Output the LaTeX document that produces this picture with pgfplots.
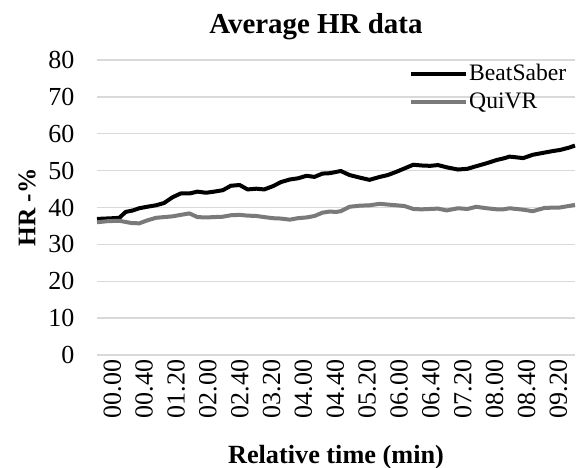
\documentclass[border=0pt]{standalone}
\usepackage{fontspec}
\setmainfont{Liberation Serif}
\usepackage{pgfplots}
\pgfplotsset{compat=1.18}
\definecolor{gridc}{RGB}{217,217,217}
\definecolor{quivr}{RGB}{122,122,122}
\begin{document}
\begin{tikzpicture}[x=0.75pt,y=0.75pt]
\useasboundingbox (0,0) rectangle (579,468);
\begin{axis}[
  at={(72.75pt,84.75pt)}, anchor=south west,
  scale only axis, width=358.5pt, height=221.25pt,
  xmin=0, xmax=600, ymin=0, ymax=80,
  clip=false,
  axis line style={draw=none},
  ymajorgrids, grid style={gridc, line width=1.1pt},
  major tick length=0pt,
  ytick={0,10,...,80},
  xtick={0,40,...,560},
  xticklabels={00.00,00.40,01.20,02.00,02.40,03.20,04.00,04.40,05.20,06.00,06.40,07.20,08.00,08.40,09.20},
  /pgf/number format/assume math mode=true,
  tick label style={font=\fontsize{19.5}{22}\selectfont},
  yticklabel style={anchor=east, xshift=-13.5pt},
  xticklabel style={rotate=90, anchor=east, yshift=-11.5pt},
  title={Average HR data},
  title style={font=\fontsize{21.7}{24}\selectfont\bfseries, at={(rel axis cs:0.458,1)}, anchor=center, yshift=19pt},
  xlabel={Relative time (min)},
  xlabel style={font=\fontsize{19.7}{22}\selectfont\bfseries, at={(rel axis cs:0.5,0)}, anchor=center, yshift=-76.5pt},
  ylabel={HR -\%},
  ylabel style={font=\fontsize{19}{22}\selectfont\bfseries, at={(rel axis cs:-0.146,0.5)}, anchor=center},
  legend style={draw=none, fill=none, at={(rel axis cs:0.985,0.99)}, anchor=north east,
    font=\fontsize{17.7}{20}\selectfont, inner sep=0pt, row sep=5.5pt,
    nodes={inner sep=1pt}},
  legend cell align=left,
  legend image code/.code={\draw[#1] (0pt,0pt) -- (41pt,0pt);},
  every axis plot/.append style={line width=3pt, line join=round},
]
\addplot[black] coordinates {
(0,36.9)(10,37.0)(20,37.1)(28,37.2)(36,38.8)(45,39.2)(53,39.8)(63,40.2)(74,40.6)(84,41.2)
(95,42.8)(105,43.8)(116,43.8)(126,44.3)(137,44.0)(147,44.3)(158,44.7)(168,45.9)(179,46.1)(189,44.9)
(200,45.1)(210,44.9)(221,45.8)(231,46.9)(242,47.6)(252,47.9)(263,48.6)(273,48.3)(283,49.2)(292,49.3)
(306,49.9)(317,48.8)(330,48.1)(342,47.5)(355,48.3)(365,48.8)(376,49.7)(386,50.6)(397,51.6)(407,51.4)
(418,51.3)(428,51.5)(439,50.9)(453,50.3)(465,50.5)(476,51.2)(489,52.0)(502,52.9)(510,53.3)(518,53.8)
(535,53.4)(547,54.3)(562,54.9)(572,55.3)(581,55.6)(592,56.2)(600,56.8)
};
\addlegendentry{BeatSaber}
\addplot[quivr] coordinates {
(0,36.0)(14,36.3)(28,36.4)(43,35.8)(53,35.7)(63,36.5)(74,37.2)(84,37.4)(95,37.6)(105,38.0)
(116,38.4)(126,37.4)(137,37.3)(147,37.4)(158,37.5)(168,37.9)(179,38.0)(189,37.8)(200,37.7)(210,37.4)
(221,37.1)(231,37.0)(242,36.7)(252,37.1)(263,37.3)(273,37.7)(283,38.6)(292,38.9)(300,38.8)(306,39.0)
(317,40.2)(330,40.5)(342,40.6)(355,41.0)(365,40.8)(376,40.6)(386,40.4)(397,39.6)(407,39.5)(418,39.6)
(428,39.7)(439,39.2)(453,39.8)(465,39.6)(476,40.2)(489,39.8)(502,39.5)(510,39.5)(518,39.8)(535,39.4)
(547,39.0)(562,39.9)(581,40.0)(600,40.7)
};
\addlegendentry{QuiVR}
\end{axis}
\end{tikzpicture}
\end{document}
